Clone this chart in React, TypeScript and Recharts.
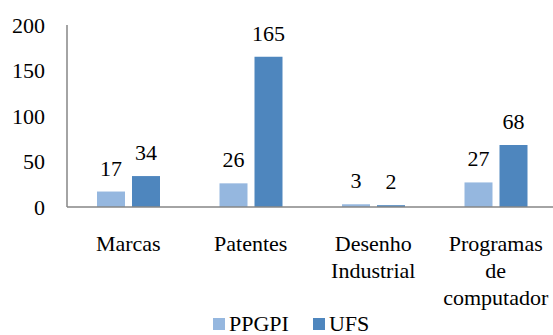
import * as React from "react";
import {
  BarChart,
  Bar,
  XAxis,
  YAxis,
  LabelList,
} from "recharts";

// Chart data
const categories = ["Marcas", "Patentes", "Desenho Industrial", "Programas de computador"];
const ppgpi = [17, 26, 3, 27];
const ufs = [34, 165, 2, 68];
const yTicks = [0, 50, 100, 150, 200];

const data = categories.map((name, i) => ({ name, PPGPI: ppgpi[i], UFS: ufs[i] }));

const FONT = "Liberation Serif";
const LIGHT = "#95B7DF";
const DARK = "#4E86BE";
const AXIS = "#868686";

// one word per line, like the original wrapped labels
const CategoryTick = ({ x, y, payload }: any) => {
  const words = String(payload.value).split(" ");
  return (
    <text x={x} y={y + 36} textAnchor="middle" fontSize={22} fill="#000" fontFamily={FONT}>
      {words.map((w, i) => (
        <tspan key={i} x={x} dy={i === 0 ? 0 : 27}>
          {w}
        </tspan>
      ))}
    </text>
  );
};

export default function App() {
  return (
    <div
      style={{
        position: "absolute",
        left: 0,
        top: 0,
        width: 553,
        height: 335,
        overflow: "hidden",
        background: "#fff",
        fontFamily: FONT,
      }}
    >
      <BarChart
        width={557}
        height={335}
        data={data}
        margin={{ top: 25, right: 0, left: 7, bottom: 0 }}
        barCategoryGap={30}
        barGap={7}
      >
        <XAxis
          dataKey="name"
          tickLine={false}
          axisLine={{ stroke: AXIS, strokeWidth: 1.5 }}
          tick={<CategoryTick />}
          interval={0}
          height={128}
        />
        <YAxis
          width={60}
          domain={[0, 200]}
          ticks={yTicks}
          tickLine={false}
          tickSize={0}
          tickMargin={22}
          axisLine={{ stroke: AXIS, strokeWidth: 1.5 }}
          tick={{ fontSize: 22, fill: "#000", fontFamily: FONT }}
        />
        <Bar dataKey="PPGPI" fill={LIGHT} isAnimationActive={false}>
          <LabelList dataKey="PPGPI" position="top" offset={16} fontSize={22} fill="#000" fontFamily={FONT} />
        </Bar>
        <Bar dataKey="UFS" fill={DARK} isAnimationActive={false}>
          <LabelList dataKey="UFS" position="top" offset={16} fontSize={22} fill="#000" fontFamily={FONT} />
        </Bar>
      </BarChart>
      <div
        style={{
          position: "absolute",
          left: 213,
          top: 312,
          display: "flex",
          alignItems: "center",
          fontSize: 22,
          lineHeight: "24px",
          color: "#000",
        }}
      >
        <span style={{ width: 12, height: 12, background: LIGHT, marginRight: 4 }} />
        <span style={{ marginRight: 24 }}>PPGPI</span>
        <span style={{ width: 12, height: 12, background: DARK, marginRight: 4 }} />
        <span>UFS</span>
      </div>
    </div>
  );
}
